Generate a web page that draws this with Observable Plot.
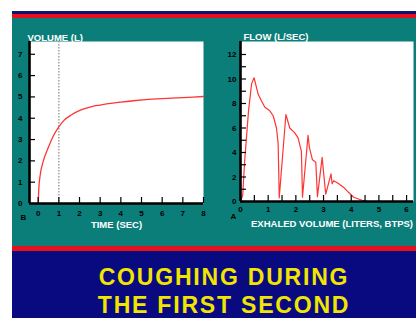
<!DOCTYPE html>
<html><head><meta charset="utf-8">
<script src="https://cdn.jsdelivr.net/npm/d3@7"></script>
<script src="https://cdn.jsdelivr.net/npm/@observablehq/plot@0.6"></script>
<style>
html,body{margin:0;padding:0;background:#fff;}
#wrap{position:relative;width:416px;height:318px;overflow:hidden;background:#fff;font-family:"Liberation Sans",Arial,sans-serif;}
.band{position:absolute;left:12px;width:404px;}
#navyTop{top:11px;height:3px;background:#12126e;}
#redTop{top:14px;height:4px;background:#e8101c;}
#teal{top:18px;height:228px;background:#0b7e7a;}
#redBot{top:246px;height:5px;background:#e8101c;}
#navyBot{top:251px;height:67px;background:#0a0a80;}
#title{position:absolute;left:22px;top:263px;width:404px;text-align:center;color:#f2e600;font-weight:bold;font-size:23px;line-height:28px;letter-spacing:1.8px;white-space:nowrap;}
#left{position:absolute;left:12px;top:18px;}
#right{position:absolute;left:212px;top:18px;}
</style></head><body>
<div id="wrap">
  <div class="band" id="navyTop"></div>
  <div class="band" id="redTop"></div>
  <div class="band" id="teal"></div>
  <div class="band" id="redBot"></div>
  <div class="band" id="navyBot"></div>
  <div id="left"></div>
  <div id="right"></div>
  <div id="title">COUGHING DURING<br>THE FIRST SECOND</div>
</div>
<script>
// ---- Data: panel B (volume vs time) ----
const volTime  = [0, 0.03, 0.1, 0.25, 0.5, 0.75, 1.0, 1.25, 1.6, 2.1, 2.6, 3.0, 3.5, 4.0, 4.6, 5.2, 6.0, 7.0, 8.0];
const volValue = [0, 0.7, 1.35, 2.0, 2.65, 3.2, 3.6, 3.9, 4.15, 4.4, 4.55, 4.62, 4.7, 4.76, 4.82, 4.87, 4.92, 4.97, 5.02];
const volXTicks = [0, 1, 2, 3, 4, 5, 6, 7, 8];
const volYTicks = [0, 1, 2, 3, 4, 5, 6, 7];
const firstSecond = [1];
const volXLabel = "TIME (SEC)";
const volYLabel = "VOLUME (L)";
const volPanel = "B";

// ---- Data: panel A (flow vs exhaled volume) ----
const flowVol   = [0, 0.08, 0.15, 0.29, 0.4, 0.49, 0.64, 0.76, 0.88, 1.06, 1.18, 1.3, 1.36, 1.4, 1.64, 1.78, 1.96, 2.08, 2.2, 2.24, 2.44, 2.49, 2.6, 2.72, 2.78, 2.95, 3.03, 3.08, 3.27, 3.31, 3.37, 3.55, 3.73, 3.9, 4.09, 4.39, 4.63];
const flowValue = [0, 0.5, 3.3, 7.4, 9.6, 10.1, 8.75, 8.2, 7.7, 7.4, 7.0, 6.0, 4.7, 0.3, 7.1, 6.0, 5.6, 5.2, 4.1, 0.35, 5.4, 4.4, 3.4, 3.2, 0.4, 3.6, 1.7, 0.6, 2.25, 1.45, 1.7, 1.45, 1.15, 0.75, 0.35, 0.1, 0];
const flowXLabels = [0, 1, 2, 3, 4, 5, 6];
const flowXTicks = [0, 0.5, 1, 1.5, 2, 2.5, 3, 3.5, 4, 4.5, 5, 5.5, 6];
const flowYTicks = [0, 1, 2, 3, 4, 5, 6, 7, 8, 9, 10, 11, 12];
const flowYLabels = [0, 2, 4, 6, 8, 10, 12];
const flowXLabel = "EXHALED VOLUME (LITERS, BTPS)";
const flowYLabel = "FLOW (L/SEC)";
const flowPanel = "A";

const FONT = "Liberation Sans, Arial, sans-serif";
const RED = "#ff3434";
const fmt = d => String(d);

// ---- Left chart ----
{
  const W = 198, H = 228, mL = 17, mR = 7, mT = 23, mB = 43;
  const xDom = [-0.42, 8], yDom = [0, 7.6];
  const pw = W - mL - mR, ph = H - mT - mB;
  const data = volTime.map((t, i) => ({t, v: volValue[i]}));
  const chart = Plot.plot({
    width: W, height: H, marginLeft: mL, marginRight: mR, marginTop: mT, marginBottom: mB,
    x: {domain: xDom}, y: {domain: yDom},
    style: {background: "transparent", fontFamily: FONT, overflow: "visible"},
    marks: [
      Plot.frame({fill: "white", stroke: null}),
      Plot.ruleX(firstSecond, {stroke: "#9c9c9c", strokeWidth: 1.4, strokeDasharray: "1.5,1.5"}),
      Plot.line(data, {x: "t", y: "v", curve: "monotone-x", stroke: RED, strokeWidth: 1.3}),
      Plot.tickY(volYTicks, {y: d => d, insetRight: pw - 6, stroke: "black", strokeWidth: 1.2}),
      Plot.tickX(volXTicks, {x: d => d, insetTop: ph - 6, stroke: "black", strokeWidth: 1.2}),
      Plot.ruleX([xDom[0]], {stroke: "black", strokeWidth: 2.6}),
      Plot.ruleY([yDom[0]], {stroke: "black", strokeWidth: 2.6}),
      Plot.axisY({ticks: volYTicks, tickFormat: fmt, tickSize: 0, tickPadding: 7, label: null, fontSize: 8, fontWeight: "bold", fill: "black"}),
      Plot.axisX({ticks: volXTicks, tickFormat: fmt, tickSize: 0, tickPadding: 7, label: null, fontSize: 8, fontWeight: "bold", fill: "black"}),
      Plot.text([volPanel], {text: d => d, frameAnchor: "bottom-left", dx: -9, dy: 16, fontSize: 8, fontWeight: "bold", fill: "black"}),
      Plot.text([volXLabel], {text: d => d, frameAnchor: "bottom", dy: 24, fontSize: 9.5, fontWeight: "bold", fill: "white"}),
      Plot.text([volYLabel], {text: d => d, frameAnchor: "top-left", textAnchor: "start", dx: -2, dy: -7, fontSize: 9.5, fontWeight: "bold", fill: "white"})
    ]
  });
  document.getElementById("left").appendChild(chart);
}

// ---- Right chart ----
{
  const W = 204, H = 228, mL = 28, mR = 3, mT = 23, mB = 45;
  const xDom = [0, 6.25], yDom = [0, 13.06];
  const pw = W - mL - mR, ph = H - mT - mB;
  const data = flowVol.map((x, i) => ({x, f: flowValue[i]}));
  const chart = Plot.plot({
    width: W, height: H, marginLeft: mL, marginRight: mR, marginTop: mT, marginBottom: mB,
    x: {domain: xDom}, y: {domain: yDom},
    style: {background: "transparent", fontFamily: FONT, overflow: "visible"},
    marks: [
      Plot.frame({fill: "white", stroke: null}),
      Plot.line(data, {x: "x", y: "f", stroke: RED, strokeWidth: 1.2, strokeLinejoin: "round"}),
      Plot.tickY(flowYTicks, {y: d => d, insetRight: pw - 6, stroke: "black", strokeWidth: 1.2}),
      Plot.tickX(flowXTicks, {x: d => d, insetTop: ph - 6, stroke: "black", strokeWidth: 1.2}),
      Plot.ruleX([xDom[0]], {stroke: "black", strokeWidth: 2.6}),
      Plot.ruleY([yDom[0]], {stroke: "black", strokeWidth: 2.6}),
      Plot.axisY({ticks: flowYLabels, tickFormat: fmt, tickSize: 0, tickPadding: 4, label: null, fontSize: 8, fontWeight: "bold", fill: "black"}),
      Plot.axisX({ticks: flowXLabels, tickFormat: fmt, tickSize: 0, tickPadding: 5, label: null, fontSize: 8, fontWeight: "bold", fill: "black"}),
      Plot.text([flowPanel], {text: d => d, frameAnchor: "bottom-left", dx: -10, dy: 17, fontSize: 8, fontWeight: "bold", fill: "black"}),
      Plot.text([flowXLabel], {text: d => d, frameAnchor: "bottom", dx: 5, dy: 25, fontSize: 9.5, fontWeight: "bold", fill: "white"}),
      Plot.text([flowYLabel], {text: d => d, frameAnchor: "top-left", textAnchor: "start", dx: 3, dy: -8, fontSize: 9.5, fontWeight: "bold", fill: "white"})
    ]
  });
  document.getElementById("right").appendChild(chart);
}
</script>
</body></html>
